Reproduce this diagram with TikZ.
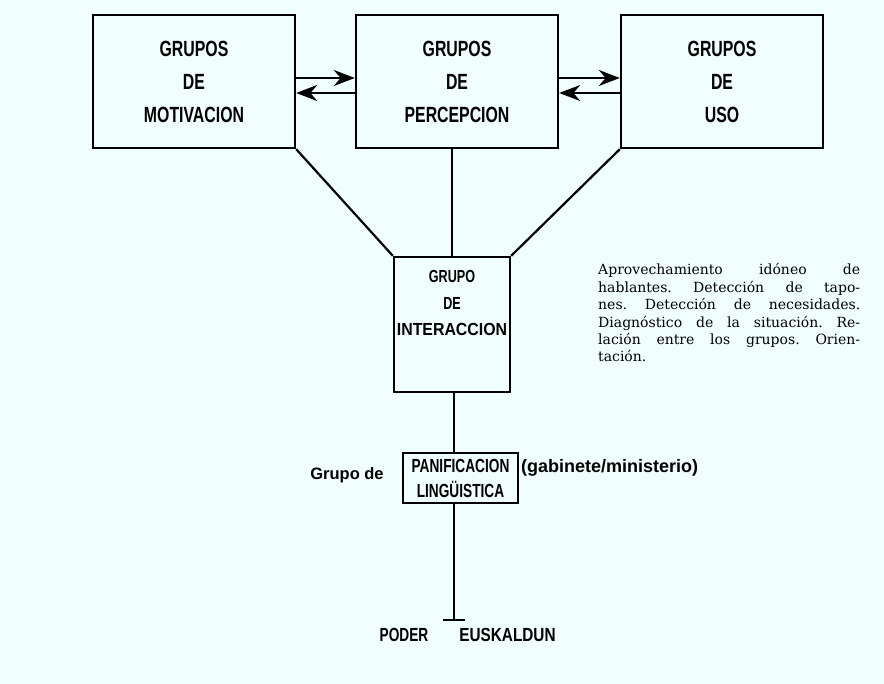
\documentclass[tikz,border=0pt]{standalone}
\usepackage{fontspec}
\usepackage{tikz}
\usetikzlibrary{arrows.meta}
\newfontfamily\condsans[FakeStretch=0.72]{Liberation Sans}
\newfontfamily\plainsans{Liberation Sans}
\newfontfamily\parafont{DejaVu Serif}
\definecolor{paper}{RGB}{240,254,254}

\begin{document}
\begin{tikzpicture}[x=1pt,y=-1pt,>={Stealth[length=21pt,width=16pt]},
  grupobox/.style={draw,line width=2.4pt,minimum width=202pt,minimum height=133pt,
    inner sep=0pt,align=center,font=\condsans\bfseries\fontsize{22}{33}\selectfont},
  link/.style={line width=2.2pt}]
  \fill[paper] (0,0) rectangle (884,684);
  \useasboundingbox (0,0) rectangle (884,684);
  % the three groups along the top
  \node[grupobox] (motiv) at (194,81.5) {GRUPOS\\DE\\MOTIVACION};
  \node[grupobox] (percep) at (457,81.5) {GRUPOS\\DE\\PERCEPCION};
  \node[grupobox] (uso) at (722,81.5) {GRUPOS\\DE\\USO};
  \draw[link,->] ([yshift=3.5pt]motiv.east) -- ([yshift=3.5pt]percep.west);
  \draw[link,->] ([yshift=-11.5pt]percep.west) -- ([yshift=-11.5pt]motiv.east);
  \draw[link,->] ([yshift=3.5pt]percep.east) -- ([yshift=3.5pt]uso.west);
  \draw[link,->] ([yshift=-11.5pt]uso.west) -- ([yshift=-11.5pt]percep.east);
  % interaction group
  \node[draw,line width=2.4pt,minimum width=116pt,minimum height=135pt,inner sep=0pt]
    (inter) at (452,324.5) {};
  \node[align=center,inner sep=0pt,font=\condsans\bfseries\fontsize{17.5}{26.5}\selectfont]
    (intertext) at (452,303) {GRUPO\\DE\\\scalebox{1.26}[1]{INTERACCION}};
  \draw[link] (motiv.south east) -- (inter.north west);
  \draw[link] (uso.south west) -- (inter.north east);
  \draw[link] (percep.south -| intertext.north) -- (inter.north -| intertext.north);
  \node[anchor=north west,inner sep=0pt,text width=262pt,align=left,
    font=\parafont\fontsize{14}{17.4}\selectfont] (nota) at (598,263.5)
    {\makebox[262pt]{Aprovechamiento\hfill idóneo\hfill de}\\
     \makebox[262pt]{hablantes.\hfill Detección\hfill de\hfill tapo-}\\
     \makebox[262pt]{nes.\hfill Detección\hfill de\hfill necesidades.}\\
     \makebox[262pt]{Diagnóstico\hfill de\hfill la\hfill situación.\hfill Re-}\\
     \makebox[262pt]{lación\hfill entre\hfill los\hfill grupos.\hfill Orien-}\\
     tación.};
  % planning group and the foot
  \node[draw,line width=2.4pt,minimum width=115pt,minimum height=50pt,inner sep=1pt,
    align=center,font=\condsans\bfseries\fontsize{19}{25}\selectfont]
    (plan) at (460.5,478) {PANIFICACION\\LINGÜISTICA};
  \node[font=\plainsans\bfseries\fontsize{16.5}{20}\selectfont,inner sep=0pt]
    (grupode) at (347,475) {Grupo de};
  \node[anchor=west,font=\plainsans\bfseries\fontsize{18}{20}\selectfont,inner sep=0pt]
    (gab) at (521,468) {(gabinete/ministerio)};
  \coordinate (foot) at (454,620);
  \draw[link] (inter.south -| foot) -- (plan.north -| foot);
  \draw[link] (plan.south -| foot) -- (foot);
  \draw[line width=2.8pt] ([xshift=-11pt]foot) -- ([xshift=11pt]foot);
  \node[font=\condsans\bfseries\fontsize{19}{20}\selectfont,inner sep=0pt]
    (poder) at (404,635) {PODER};
  \node[font=\condsans\bfseries\fontsize{19}{20}\selectfont,inner sep=0pt]
    (euskaldun) at (507.5,635) {\scalebox{1.12}[1]{EUSKALDUN}};
\end{tikzpicture}
\end{document}
